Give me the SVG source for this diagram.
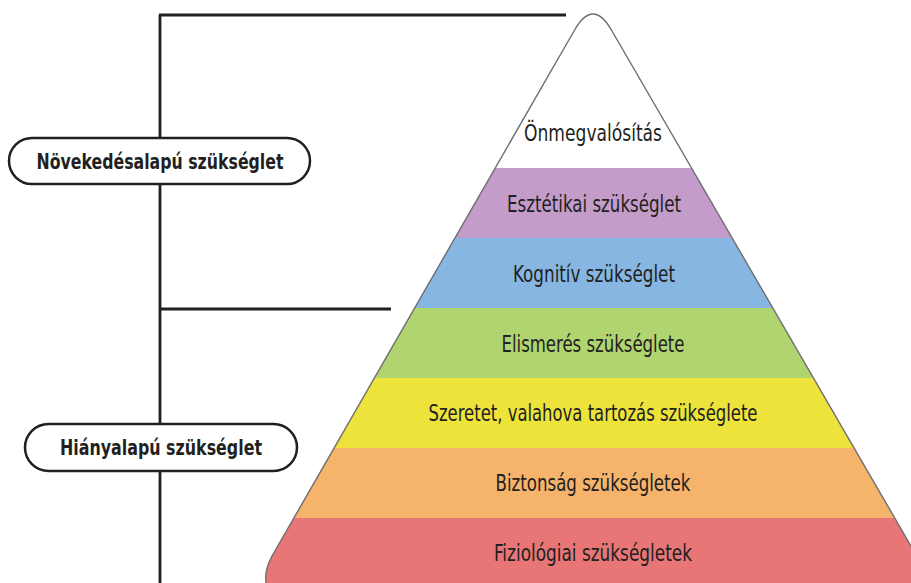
<svg xmlns="http://www.w3.org/2000/svg" width="911" height="583" viewBox="0 0 911 583">
  <style>
    .lvl { font-family: "DejaVu Sans Condensed", "DejaVu Sans", sans-serif; font-stretch: condensed; font-size: 23px; fill: #231f20; text-anchor: middle; }
    .pill { fill: #ffffff; stroke: #231f20; stroke-width: 2.5; }
    .pilltxt { font-family: "DejaVu Sans Condensed", "DejaVu Sans", sans-serif; font-stretch: condensed; font-weight: bold; font-size: 22px; fill: #231f20; text-anchor: middle; }
    .conn { stroke: #231f20; stroke-width: 2.8; fill: none; }
    .outline { fill: none; stroke: #6d6e71; stroke-width: 1.4; }
  </style>
  <defs>
    <clipPath id="pyr">
      <path id="pyrpath" d="M574.6,30 Q593,-2 611.4,30 L940,596 L940,600 L275,600 Q258,582 272,556 Z"/>
    </clipPath>
  </defs>

  <g id="connectors">
    <line class="conn" x1="160" y1="15" x2="160" y2="583"/>
    <line class="conn" x1="159" y1="15" x2="566" y2="15"/>
    <line class="conn" x1="159" y1="309" x2="391" y2="309"/>
  </g>

  <g id="pyramid">
    <g clip-path="url(#pyr)">
      <rect x="250" y="0" width="700" height="168" fill="#ffffff"/>
      <rect x="250" y="168" width="700" height="70" fill="#c39cc9"/>
      <rect x="250" y="238" width="700" height="70" fill="#86b6e1"/>
      <rect x="250" y="308" width="700" height="70" fill="#b0d46f"/>
      <rect x="250" y="378" width="700" height="70" fill="#ede33b"/>
      <rect x="250" y="448" width="700" height="70" fill="#f5b36c"/>
      <rect x="250" y="518" width="700" height="90" fill="#e87677"/>
    </g>
    <path class="outline" d="M574.6,30 Q593,-2 611.4,30 L940,596 M275,600 Q258,582 272,556 L574.6,30"/>
  </g>

  <g id="level-onmegvalositas"><text class="lvl" x="593" y="141" textLength="138" lengthAdjust="spacingAndGlyphs">Önmegvalósítás</text></g>
  <g id="level-esztetikai"><text class="lvl" x="594" y="212" textLength="174" lengthAdjust="spacingAndGlyphs">Esztétikai szükséglet</text></g>
  <g id="level-kognitiv"><text class="lvl" x="594" y="282" textLength="162" lengthAdjust="spacingAndGlyphs">Kognitív szükséglet</text></g>
  <g id="level-elismeres"><text class="lvl" x="593" y="352" textLength="183" lengthAdjust="spacingAndGlyphs">Elismerés szükséglete</text></g>
  <g id="level-szeretet"><text class="lvl" x="593" y="421" textLength="329" lengthAdjust="spacingAndGlyphs">Szeretet, valahova tartozás szükséglete</text></g>
  <g id="level-biztonsag"><text class="lvl" x="593" y="491" textLength="195" lengthAdjust="spacingAndGlyphs">Biztonság szükségletek</text></g>
  <g id="level-fiziologiai"><text class="lvl" x="593" y="561" textLength="198" lengthAdjust="spacingAndGlyphs">Fiziológiai szükségletek</text></g>

  <g id="novekedesalapu">
    <rect class="pill" x="9" y="138" width="301" height="46" rx="23" ry="23"/>
    <text class="pilltxt" x="160" y="169" textLength="247" lengthAdjust="spacingAndGlyphs">Növekedésalapú szükséglet</text>
  </g>
  <g id="hianyalapu">
    <rect class="pill" x="25" y="424" width="272" height="47" rx="23.5" ry="23.5"/>
    <text class="pilltxt" x="161" y="455" textLength="202" lengthAdjust="spacingAndGlyphs">Hiányalapú szükséglet</text>
  </g>
</svg>
